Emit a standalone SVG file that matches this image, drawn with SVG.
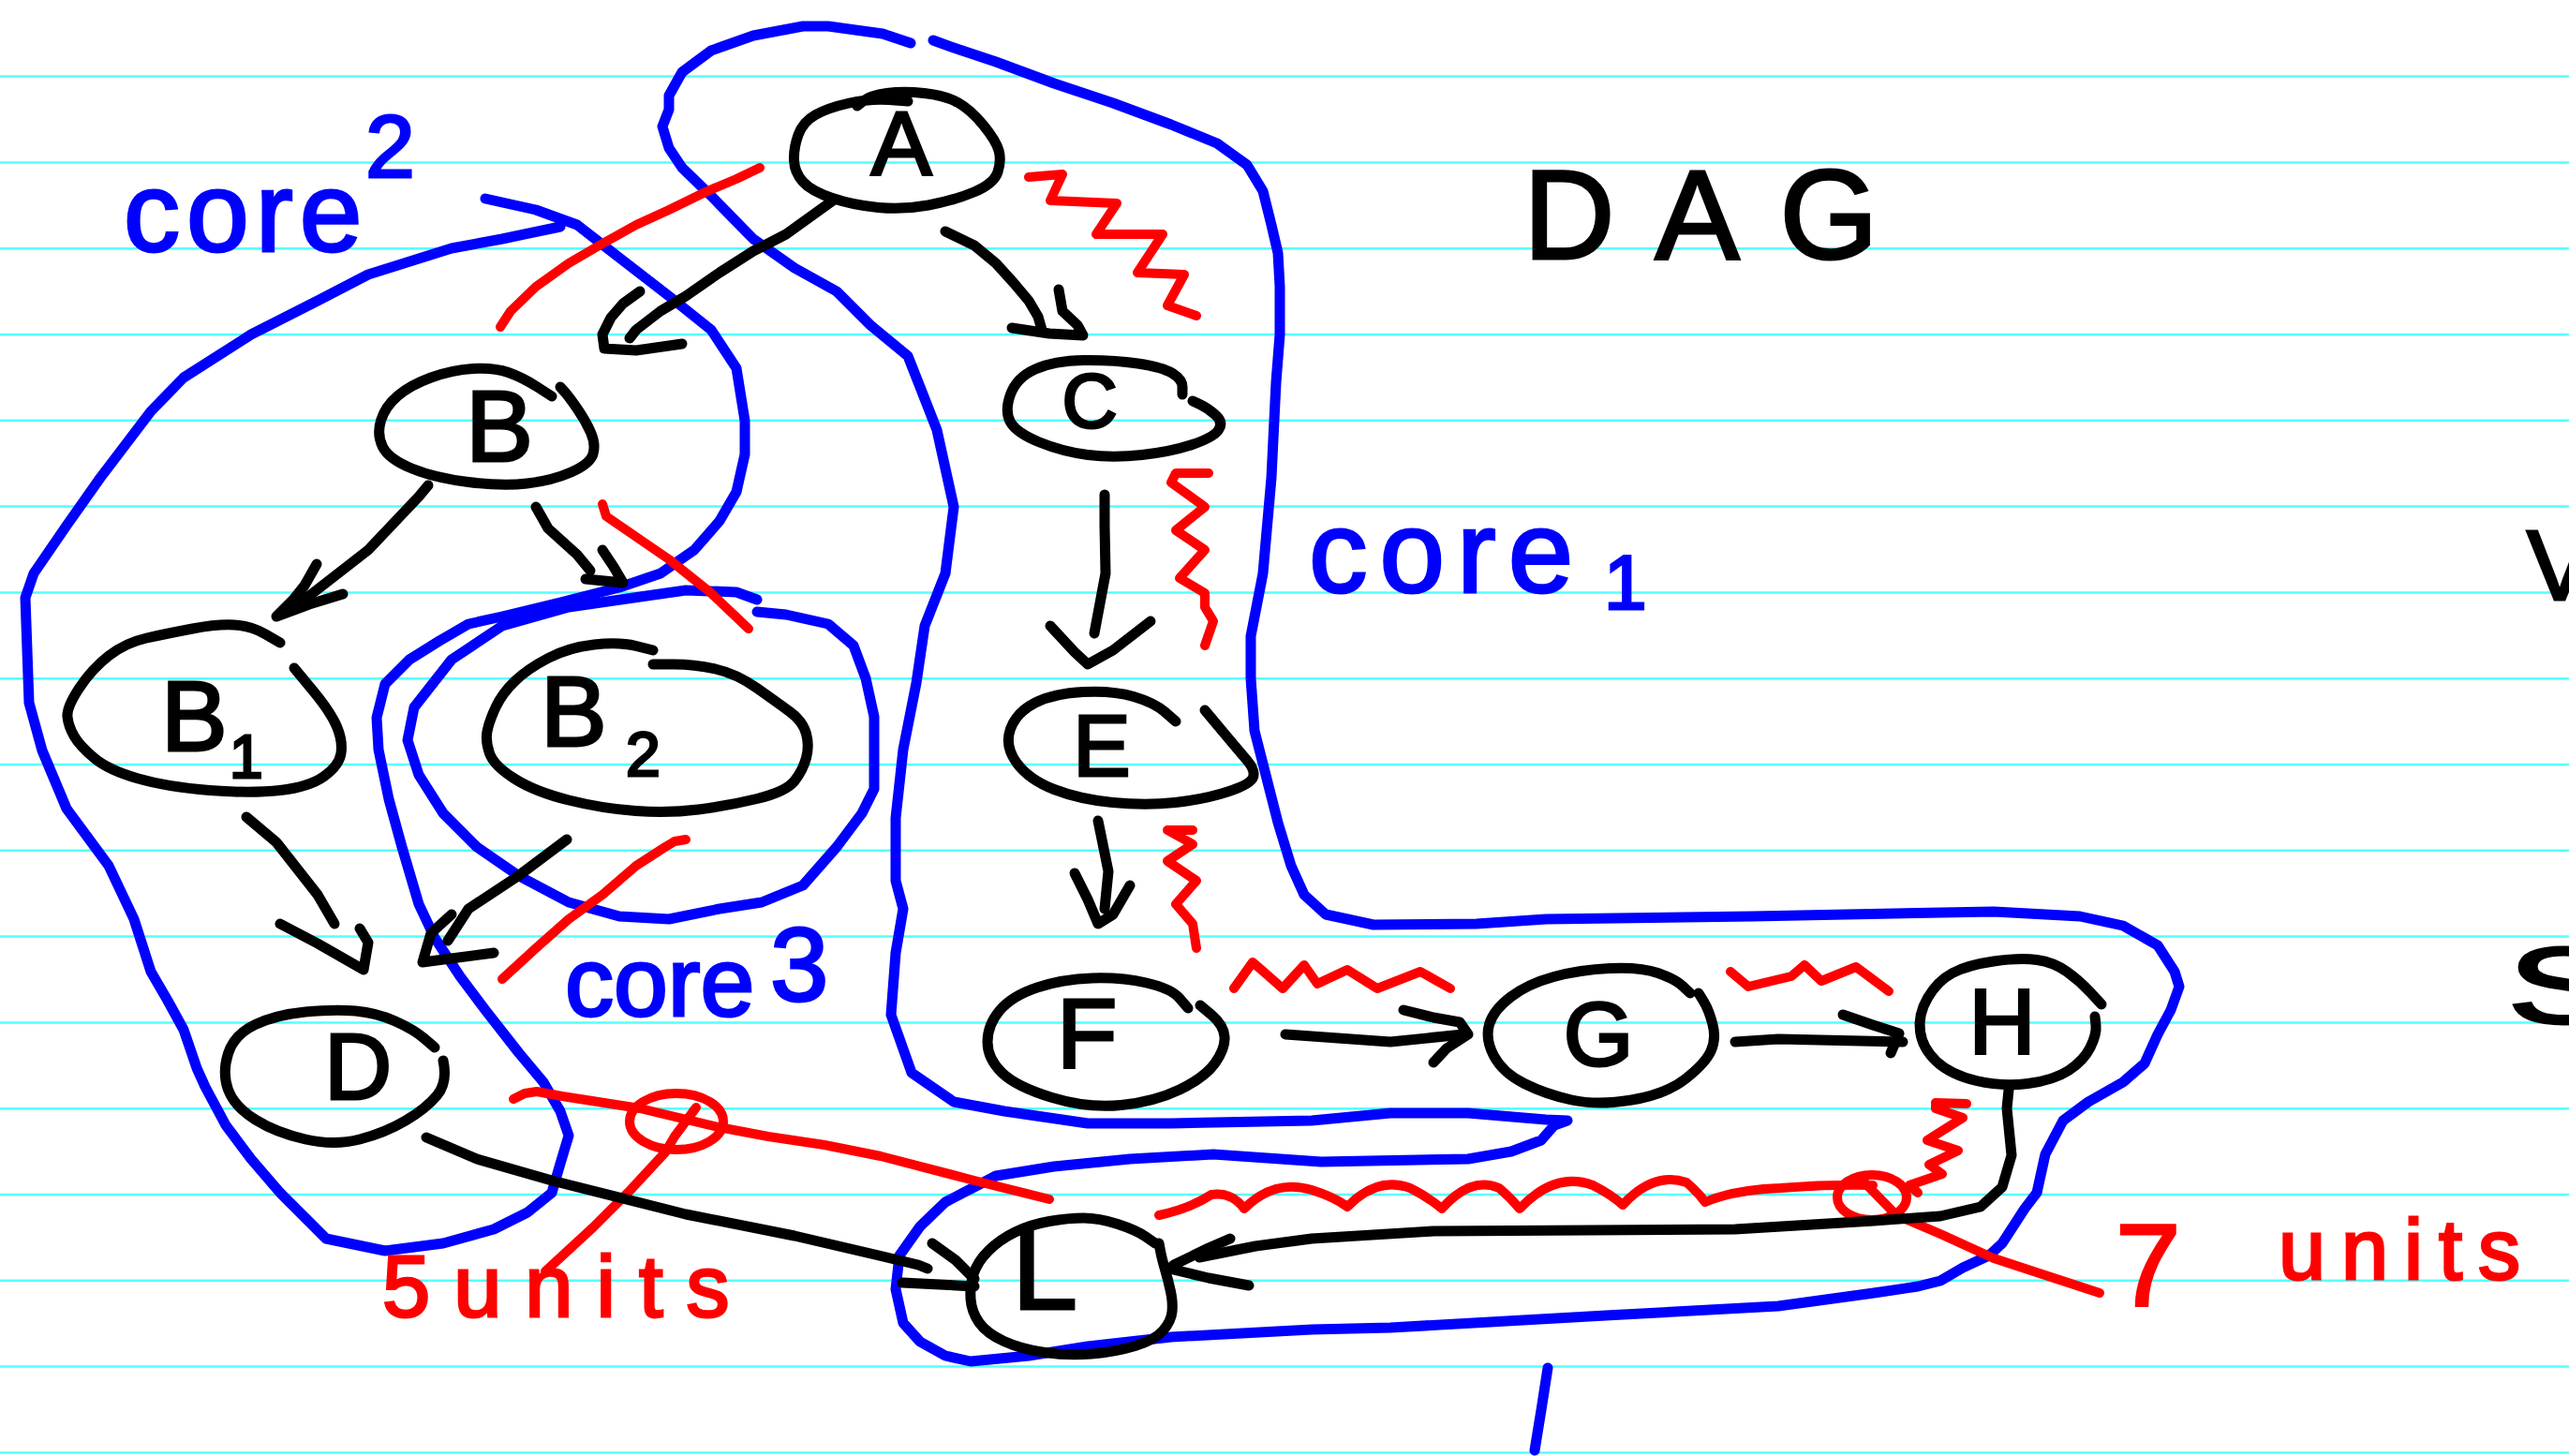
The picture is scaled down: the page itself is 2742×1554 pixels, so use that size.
<svg xmlns="http://www.w3.org/2000/svg" width="2742" height="1554" viewBox="0 0 2742 1554">
  <style>
    .rule { stroke: #55ffff; stroke-width: 2.5; }
    .ink { fill: none; stroke: #000; stroke-width: 11; stroke-linecap: round; stroke-linejoin: round; }
    .blue { fill: none; stroke: #0000ff; stroke-width: 11; stroke-linecap: round; stroke-linejoin: round; }
    .red { fill: none; stroke: #ff0000; stroke-width: 10; stroke-linecap: round; stroke-linejoin: round; }
    .lbl { font-family: "Liberation Sans", Arial, sans-serif; fill: #000; stroke: #000; stroke-width: 3; }
    .bnote { font-family: "Liberation Sans", Arial, sans-serif; fill: #0000ff; stroke: #0000ff; stroke-width: 3; }
    .rnote { font-family: "Liberation Sans", Arial, sans-serif; fill: #ff0000; stroke: #ff0000; stroke-width: 3; }
  </style>
  <rect width="2742" height="1554" fill="#fff"/>

  <!-- ruled paper -->
  <g id="ruling" class="rule">
    <line x1="0" y1="81.6" x2="2742" y2="81.6"/>
    <line x1="0" y1="173.4" x2="2742" y2="173.4"/>
    <line x1="0" y1="265.2" x2="2742" y2="265.2"/>
    <line x1="0" y1="357" x2="2742" y2="357"/>
    <line x1="0" y1="448.8" x2="2742" y2="448.8"/>
    <line x1="0" y1="540.6" x2="2742" y2="540.6"/>
    <line x1="0" y1="632.4" x2="2742" y2="632.4"/>
    <line x1="0" y1="724.2" x2="2742" y2="724.2"/>
    <line x1="0" y1="816" x2="2742" y2="816"/>
    <line x1="0" y1="907.8" x2="2742" y2="907.8"/>
    <line x1="0" y1="999.6" x2="2742" y2="999.6"/>
    <line x1="0" y1="1091.4" x2="2742" y2="1091.4"/>
    <line x1="0" y1="1183.2" x2="2742" y2="1183.2"/>
    <line x1="0" y1="1275" x2="2742" y2="1275"/>
    <line x1="0" y1="1366.8" x2="2742" y2="1366.8"/>
    <line x1="0" y1="1458.6" x2="2742" y2="1458.6"/>
    <line x1="0" y1="1550.4" x2="2742" y2="1550.4"/>
  </g>

  <!-- core groupings (blue) -->
  <g id="cores">
    <path id="core1-outline" class="blue" d="M996,43 L1018,51 L1063,66 L1125,89 L1188,110 L1250,133 L1299,153 L1331,176 L1348,204 L1357,240 L1364,270 L1366,306 L1366,357 L1362,408 L1357,510 L1348,612 L1335,679 L1335,724 L1339,780 L1351,827 L1364,878 L1378,924 L1392,955 L1415,976 L1466,987 L1576,986 L1650,981 L1870,978 L2128,973 L2220,978 L2266,988 L2303,1009 L2321,1037 L2326,1053 L2317,1078 L2303,1104 L2289,1135 L2266,1155 L2229,1176 L2202,1196 L2183,1232 L2174,1273 L2161,1290 L2137,1327 L2123,1340 L2095,1353 L2071,1367 L2047,1373 L2000,1380 L1898,1394 L1714,1404 L1484,1417 L1400,1419 L1250,1427 L1161,1437 L1098,1447 L1036,1453 L1009,1447 L982,1432 L964,1412 L956,1376 L960,1340 L982,1309 L1009,1283 L1063,1255 L1125,1245 L1206,1237 L1295,1232 L1410,1240 L1567,1237 L1613,1229 L1645,1217 L1659,1201 L1673,1196 L1650,1195 L1567,1188 L1484,1188 L1400,1196 L1250,1199 L1161,1199 L1072,1186 L1018,1176 L973,1145 L951,1083 L956,1017 L964,970 L956,940 L956,873 L964,800 L978,729 L987,668 L1009,612 L1018,541 L1000,459 L982,413 L969,380 L929,347 L893,311 L848,286 L804,255 L759,209 L728,179 L714,158 L707,135 L714,117 L714,102 L728,77 L759,54 L804,38 L857,28 L884,28 L942,36 L972,46"/>
    <path id="core2-outline" class="blue" d="M518,212 L572,224 L616,240 L661,275 L714,316 L759,352 L786,393 L795,449 L795,485 L786,525 L768,556 L741,587 L705,612 L661,627 L598,643 L536,658 L500,666 L469,684 L437,704 L411,730 L402,766 L404,800 L415,853 L429,904 L447,965 L464,1001 L491,1042 L518,1078 L554,1124 L580,1155 L598,1186 L607,1212 L598,1242 L589,1273 L563,1294 L527,1312 L473,1327 L411,1335 L348,1322 L330,1304 L299,1273 L268,1237 L241,1201 L219,1160 L210,1140 L196,1099 L179,1068 L161,1037 L143,981 L116,924 L71,863 L45,801 L31,750 L27,638 L36,612 L71,561 L107,510 L161,439 L196,403 L268,357 L339,321 L393,293 L482,265 L536,255 L598,242"/>
    <path id="core3-outline" class="blue" d="M808,653 L839,656 L884,666 L911,689 L924,724 L933,765 L933,842 L920,868 L893,904 L857,945 L813,963 L768,970 L714,981 L661,978 L607,963 L554,935 L509,904 L473,868 L447,827 L435,790 L442,755 L482,704 L536,668 L607,648 L697,635 L732,630 L786,632 L808,640"/>
    <path class="blue" d="M1652,1460 L1645,1505 L1638,1548"/>
  </g>

  <!-- cuts and weights (red) -->
  <g id="cuts">
    <path class="red" d="M811,179 L786,191 L755,204 L714,224 L679,240 L643,260 L607,281 L572,306 L545,332 L534,349"/>
    <path class="red" d="M1098,189 L1134,186 L1121,214 L1192,217 L1170,250 L1241,250 L1214,291 L1264,293 L1246,326 L1277,337"/>
    <path class="red" d="M643,538 L647,551 L714,597 L759,633 L799,671"/>
    <path class="red" d="M1290,505 L1255,505 L1250,515 L1286,541 L1255,566 L1286,587 L1259,617 L1286,633 L1286,648 L1295,663 L1286,689"/>
    <path class="red" d="M732,896 L720,898 L710,904 L679,924 L643,955 L607,981 L572,1012 L536,1045"/>
    <path class="red" d="M1273,886 L1246,886 L1273,901 L1246,919 L1277,940 L1255,965 L1273,986 L1277,1012"/>
    <path class="red" d="M1317,1055 L1337,1027 L1352,1040 L1369,1055 L1392,1030 L1406,1050 L1438,1035 L1470,1055 L1516,1037 L1548,1055"/>
    <path class="red" d="M1847,1037 L1866,1053 L1912,1042 L1926,1030 L1944,1047 L1981,1032 L2016,1058"/>
    <path class="red" d="M2099,1178 L2066,1177 L2066,1183 L2095,1193 L2057,1217 L2090,1228 L2059,1243 L2073,1253 L2038,1265 L2047,1273"/>
    <path class="red" d="M1237,1297 Q1270,1290 1293,1275 Q1315,1272 1328,1290 Q1360,1258 1400,1270 Q1425,1278 1438,1288 Q1470,1255 1505,1268 Q1525,1278 1539,1290 Q1570,1255 1600,1268 Q1612,1278 1622,1290 Q1660,1250 1700,1265 Q1720,1275 1732,1286 Q1765,1250 1800,1262 Q1812,1272 1820,1283 Q1850,1270 1900,1268 Q1950,1264 1999,1265"/>
    <ellipse class="red" cx="1998" cy="1278" rx="37" ry="24"/>
    <path class="red" d="M1990,1262 L2024,1297 L2071,1317 L2128,1343 L2189,1363 L2241,1380"/>
    <path class="red" d="M548,1173 L560,1167 L573,1165 L600,1170 L683,1183 L767,1203 L820,1213 L880,1222 L940,1234 L1040,1260 L1120,1280"/>
    <ellipse class="red" cx="722" cy="1197" rx="50" ry="30"/>
    <path class="red" d="M743,1182 L720,1213 L710,1230 L673,1270 L633,1310 L582,1357"/>
  </g>

  <!-- graph edges -->
  <g id="edges" class="ink">
    <path d="M889,214 L839,250 L804,268 L768,291 L732,316 L705,332 L679,352 L672,361"/>
    <path d="M683,311 L665,324 L652,339 L643,357 L645,372 L679,374 L728,367"/>
    <path d="M1009,247 L1040,262 L1063,281 L1082,302 L1098,321 L1108,338 L1112,352"/>
    <path d="M1130,309 L1134,332 L1150,347 L1156,358 L1120,356 L1080,350"/>
    <path d="M1179,528 L1179,561 L1180,612 L1168,676"/>
    <path d="M1121,668 L1147,696 L1161,709 L1188,694 L1228,663"/>
    <path d="M1172,876 L1183,930 L1179,970"/>
    <path d="M1147,932 L1161,960 L1172,986 L1188,976 L1206,945"/>
    <path d="M1372,1104 L1484,1112 L1562,1104"/>
    <path d="M1498,1078 L1530,1086 L1558,1091 L1567,1104 L1544,1119 L1530,1134"/>
    <path d="M1852,1112 L1898,1109 L2031,1112"/>
    <path d="M1967,1083 L1999,1094 L2027,1103 L2018,1124"/>
    <path d="M2144,1163 L2142,1183 L2147,1233 L2137,1267 L2114,1288 L2071,1298 L2000,1303 L1852,1312 L1530,1314 L1400,1322 L1340,1330 L1300,1338 L1280,1342"/>
    <path d="M1313,1322 L1290,1332 L1253,1350 L1248,1354 L1290,1364 L1333,1372"/>
    <path d="M455,1214 L509,1237 L589,1260 L732,1296 L848,1319 L938,1340 L980,1350 L990,1354"/>
    <path d="M995,1327 L1020,1345 L1040,1365"/>
    <path d="M963,1369 L1040,1373"/>
    <path d="M457,518 L447,530 L393,587 L321,643"/>
    <path d="M338,602 L325,625 L313,640 L295,658 L330,645 L366,634"/>
    <path d="M572,541 L585,564 L616,592 L630,609"/>
    <path d="M643,587 L655,605 L665,622 L625,618"/>
    <path d="M263,872 L295,899 L339,955 L357,986"/>
    <path d="M299,986 L339,1007 L388,1035 L393,1006 L384,991"/>
    <path d="M605,896 L553,935 L500,970 L478,1004"/>
    <path d="M482,976 L460,996 L451,1027 L527,1017"/>
  </g>

  <!-- nodes -->
  <g id="node-A">
    <path class="ink" d="M915,113 L922,107.5 Q929,102 946.5,99.5 Q964,97 986.5,99.5 Q1009,102 1022.5,109.5 Q1036,117 1049.5,133.5 Q1063,150 1066,160.5 Q1069,171 1065,183.5 Q1061,196 1039.5,205 Q1018,214 991,219 Q964,224 937.5,221.5 Q911,219 888.5,211.5 Q866,204 857,194 Q848,184 847.5,171 Q847,158 852,144 Q857,130 870.5,122.5 Q884,115 906.5,110 Q929,105 949,106.5 L969,108"/>
    <text class="lbl" x="962" y="186" font-size="97" text-anchor="middle">A</text>
  </g>
  <g id="node-B">
    <path class="ink" d="M589,423 L573.5,413 Q558,403 542.5,397.5 Q527,392 504.5,393.5 Q482,395 460,403 Q438,411 424.5,422.5 Q411,434 406.5,449 Q402,464 408.5,477 Q415,490 439.5,500 Q464,510 500,514.5 Q536,519 562.5,516 Q589,513 609.5,504 Q630,495 633,484.5 Q636,474 630.5,461.5 Q625,449 616,436 Q607,423 602.5,418 L598,413"/>
    <text class="lbl" x="533" y="492" font-size="108" text-anchor="middle">B</text>
  </g>
  <g id="node-B1">
    <path class="ink" d="M299,686 L283.5,677 Q268,668 250,667 Q232,666 205.5,671 Q179,676 156.5,681 Q134,686 116,700 Q98,714 84.5,734.5 Q71,755 72,765 Q73,775 79,785.5 Q85,796 100.5,809 Q116,822 147.5,831 Q179,840 223.5,843.5 Q268,847 299,843.5 Q330,840 346,828.5 Q362,817 364,804 Q366,791 359.5,775.5 Q353,760 333.5,736.5 L314,713"/>
    <text class="lbl" x="172" y="801" font-size="106">B<tspan x="245" y="830" font-size="64">1</tspan></text>
  </g>
  <g id="node-B2">
    <path class="ink" d="M697,694 L679,689.5 Q661,685 634,688 Q607,691 585,702.5 Q563,714 549.5,727 Q536,740 529,755 Q522,770 520,780.5 Q518,791 522.5,804 Q527,817 549,831 Q571,845 607,854 Q643,863 678.5,865.5 Q714,868 745.5,864 Q777,860 808,852.5 Q839,845 848,833.5 Q857,822 860.5,809 Q864,796 860.5,783 Q857,770 843.5,760 Q830,750 808,734.5 Q786,719 763.5,714 Q741,709 719,709 L697,709"/>
    <text class="lbl" x="577" y="796" font-size="106">B<tspan x="668" y="828" font-size="66">2</tspan></text>
  </g>
  <g id="node-C">
    <path class="ink" d="M1262,421 L1262,413 Q1262,405 1251.5,398.5 Q1241,392 1214.5,388 Q1188,384 1156.5,384.5 Q1125,385 1105,394 Q1085,403 1078.5,421 Q1072,439 1078.5,450.5 Q1085,462 1109.5,472 Q1134,482 1161,485.5 Q1188,489 1219,485.5 Q1250,482 1272.5,474.5 Q1295,467 1300.5,459 Q1306,451 1298,443.5 Q1290,436 1281.5,432 L1273,428"/>
    <text class="lbl" x="1163" y="456" font-size="82" text-anchor="middle">C</text>
  </g>
  <g id="node-D">
    <path class="ink" d="M464,1118 L453,1108.5 Q442,1099 422,1090 Q402,1081 379.5,1079 Q357,1077 326,1080 Q295,1083 272.5,1093.5 Q250,1104 243.5,1124.5 Q237,1145 243.5,1163 Q250,1181 272.5,1195 Q295,1209 326,1216 Q357,1223 384,1216 Q411,1209 433,1196 Q455,1183 466.5,1169 Q478,1155 473,1132"/>
    <text class="lbl" x="382" y="1173" font-size="100" text-anchor="middle">D</text>
  </g>
  <g id="node-E">
    <path class="ink" d="M1255,770 L1243.5,760 Q1232,750 1210,743.5 Q1188,737 1156.5,738.5 Q1125,740 1105,750 Q1085,760 1078.5,778 Q1072,796 1085,814 Q1098,832 1125,842.5 Q1152,853 1187.5,856.5 Q1223,860 1254.5,856.5 Q1286,853 1310.5,845 Q1335,837 1337.5,829.5 Q1340,822 1331,811.5 Q1322,801 1304,779.5 L1286,758"/>
    <text class="lbl" x="1176" y="828" font-size="92" text-anchor="middle">E</text>
  </g>
  <g id="node-F">
    <path class="ink" d="M1268,1076 L1259,1065.5 Q1250,1055 1223.5,1049 Q1197,1043 1165.5,1044 Q1134,1045 1107,1054 Q1080,1063 1067,1078.5 Q1054,1094 1054,1112 Q1054,1130 1069.5,1145 Q1085,1160 1123,1171.5 Q1161,1183 1196.5,1179.5 Q1232,1176 1259,1163 Q1286,1150 1297,1134.5 Q1308,1119 1307,1106.5 Q1306,1094 1293.5,1083.5 L1281,1073"/>
    <text class="lbl" x="1160" y="1140" font-size="106" text-anchor="middle">F</text>
  </g>
  <g id="node-G">
    <path class="ink" d="M1804,1060 L1796,1052.5 Q1788,1045 1769.5,1038.5 Q1751,1032 1718.5,1033.5 Q1686,1035 1658.5,1042.5 Q1631,1050 1612.5,1064 Q1594,1078 1589.5,1093.5 Q1585,1109 1594.5,1127 Q1604,1145 1627,1156.5 Q1650,1168 1677.5,1174 Q1705,1180 1741.5,1174 Q1778,1168 1799,1151.5 Q1820,1135 1826,1122 Q1832,1109 1828,1093.5 Q1824,1078 1818.5,1069 L1813,1060"/>
    <text class="lbl" x="1706" y="1137" font-size="96" text-anchor="middle">G</text>
  </g>
  <g id="node-H">
    <path class="ink" d="M2243,1072 L2231.5,1059.5 Q2220,1047 2206,1037 Q2192,1027 2174,1024.5 Q2156,1022 2128,1026 Q2100,1030 2084,1038.5 Q2068,1047 2057.5,1065 Q2047,1083 2049.5,1101 Q2052,1119 2067,1133 Q2082,1147 2109.5,1153.5 Q2137,1160 2164.5,1156.5 Q2192,1153 2208,1142.5 Q2224,1132 2231,1118 Q2238,1104 2237,1094.5 L2236,1085"/>
    <text class="lbl" x="2137" y="1124" font-size="99" text-anchor="middle">H</text>
  </g>
  <g id="node-L">
    <path class="ink" d="M1233,1327 L1223,1320 Q1213,1313 1193,1306.5 Q1173,1300 1156.5,1300 Q1140,1300 1120,1303.5 Q1100,1307 1083.5,1315 Q1067,1323 1055,1335 Q1043,1347 1039,1360 Q1035,1373 1036,1386.5 Q1037,1400 1045,1411.5 Q1053,1423 1071.5,1431.5 Q1090,1440 1115,1443.5 Q1140,1447 1165,1445 Q1190,1443 1211.5,1436.5 Q1233,1430 1241.5,1420 Q1250,1410 1251,1400 Q1252,1390 1249.5,1378.5 Q1247,1367 1243.5,1355 Q1240,1343 1238.5,1335 L1237,1327"/>
    <text class="lbl" x="1080" y="1397" font-size="126">L</text>
  </g>

  <!-- handwritten notes -->
  <g id="notes">
    <text class="lbl" x="1626" y="276" font-size="135" letter-spacing="43">DAG</text>
    <text class="bnote" x="132" y="268" font-size="120" letter-spacing="7">core<tspan x="390" y="189" font-size="95" letter-spacing="0">2</tspan></text>
    <text class="bnote" x="1397" y="632" font-size="125" letter-spacing="13">core<tspan x="1712" y="650" font-size="82" letter-spacing="0">1</tspan></text>
    <text class="bnote" x="603" y="1084" font-size="104">core<tspan x="822" y="1068" font-size="112">3</tspan></text>
    <text class="rnote" x="408" y="1405" font-size="92" letter-spacing="25">5units</text>
    <text class="rnote" x="2258" y="1393" font-size="125">7 <tspan x="2432" y="1365" font-size="90" letter-spacing="17">units</tspan></text>
    <text class="lbl" x="2697" y="640" font-size="105">V</text>
    <text class="lbl" x="2676" y="1092" font-size="115" textLength="120" lengthAdjust="spacingAndGlyphs">S</text>
  </g>
</svg>
